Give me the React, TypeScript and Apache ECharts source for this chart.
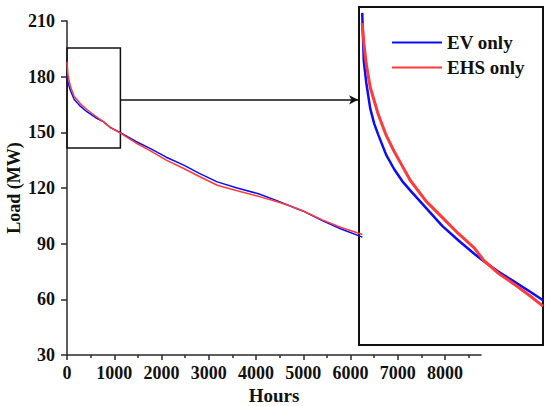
import React, { useEffect, useRef } from "react";
import * as echarts from "echarts";

// Main chart (load duration curves)
const mainHours = [0, 20, 70, 150, 280, 420, 600, 775, 917, 1130, 1450, 1765, 2100, 2470, 2800, 3178, 3600, 4050, 4400, 4695, 5000, 5400, 5800, 6250];
const mainEv = [181, 177, 172.7, 167.8, 164.1, 161.1, 158.0, 155.6, 152.6, 149.8, 145.2, 141.2, 136.6, 132.3, 127.9, 123.3, 120.0, 116.9, 113.6, 110.6, 107.5, 102.4, 97.9, 93.5];
const mainEhs = [188, 181, 175.0, 169.5, 165.5, 162.3, 158.8, 155.6, 152.5, 149.6, 144.4, 140.0, 135.0, 130.5, 126.2, 121.5, 118.5, 115.5, 113.0, 110.6, 107.6, 102.8, 98.7, 94.9];

// Inset (zoomed view of the first hours)
const insetHours = [0, 10, 25, 50, 75, 100, 150, 200, 250, 300, 400, 500, 600, 700, 760, 850, 950, 1050, 1130];
const insetEv = [184.3, 178.6, 176.1, 173.0, 171.2, 169.9, 167.5, 165.8, 164.4, 163.3, 161.2, 159.1, 157.4, 155.8, 154.9, 153.7, 152.5, 151.3, 150.3];
const insetEhs = [183.1, 180.8, 178.3, 175.5, 173.9, 172.3, 169.8, 167.9, 166.2, 164.5, 162.0, 160.1, 158.2, 156.5, 155.0, 153.5, 152.2, 150.8, 149.6];

const seriesNames = ["EV only", "EHS only"];
const xMajorTicks = [0, 1000, 2000, 3000, 4000, 5000, 6000, 7000, 8000];
const xMinorTicks = [500, 1500, 2500, 3500, 4500, 5500, 6500, 7500, 8500];
const xRange = [0, 8760];
const yRange = [30, 210];
const yInterval = 30;

const insetHourRange = [-20, 1130];
const insetLoadRange = [145, 185];
const zoomBoxHours = [0, 1130];
const zoomBoxLoad = [141.6, 195.5];
const arrowLoad = 167.5;
const arrowEndHour = 6160;

const BLUE = "#0b0bff";
const RED = "#ff3a3a";
const font = { fontFamily: "Liberation Serif", fontWeight: "bold" as const, color: "#111" };

const zip = (xs: number[], ys: number[]) => xs.map((x, i) => [x, ys[i]]);

export default function App() {
  const ref = useRef<HTMLDivElement>(null);
  useEffect(() => {
    if (!ref.current) return;
    const chart = echarts.init(ref.current, null, { renderer: "svg" });
    const axisLineStyle = { color: "#2a2a2a", width: 1.5 };
    chart.setOption({
      animation: false,
      backgroundColor: "#fff",
      legend: {
        data: seriesNames,
        orient: "vertical",
        left: 386,
        top: 28,
        itemWidth: 50,
        itemHeight: 14,
        itemGap: 6,
        itemStyle: { opacity: 0 },
        lineStyle: { width: 2 },
        textStyle: { ...font, fontSize: 19 },
      },
      grid: [
        { left: 67, top: 21, width: 414, height: 334, show: false, outerBoundsMode: "none", containLabel: false },
        {
          left: 359,
          top: 7,
          width: 184,
          height: 338,
          show: true,
          backgroundColor: "#fff",
          borderColor: "#111",
          borderWidth: 2,
          outerBoundsMode: "none",
          containLabel: false,
        },
      ],
      xAxis: [
        {
          gridIndex: 0,
          type: "value",
          min: xRange[0],
          max: xRange[1],
          interval: 1000,
          position: "bottom",
          axisLine: { show: true, lineStyle: axisLineStyle },
          axisTick: { show: true, customValues: xMajorTicks, length: 5, lineStyle: axisLineStyle },
          axisLabel: {
            customValues: xMajorTicks,
            margin: 9,
            formatter: (v: number) => String(v),
            ...font,
            fontSize: 18,
          },
          splitLine: { show: false },
          name: "Hours",
          nameLocation: "middle",
          nameGap: 31,
          nameMoveOverlap: false,
          nameTextStyle: { ...font, fontSize: 19 },
        },
        {
          gridIndex: 0,
          type: "value",
          min: xRange[0],
          max: xRange[1],
          interval: 500,
          position: "bottom",
          axisLine: { show: false },
          axisTick: { show: true, customValues: xMinorTicks, length: 3, lineStyle: axisLineStyle },
          axisLabel: { show: false },
          splitLine: { show: false },
        },
        {
          gridIndex: 1,
          type: "value",
          min: insetHourRange[0],
          max: insetHourRange[1],
          show: false,
        },
      ],
      yAxis: [
        {
          gridIndex: 0,
          type: "value",
          min: yRange[0],
          max: yRange[1],
          interval: yInterval,
          axisLine: { show: true, lineStyle: axisLineStyle },
          axisTick: { show: true, length: 6, lineStyle: axisLineStyle },
          axisLabel: { margin: 12, formatter: (v: number) => String(v), ...font, fontSize: 18 },
          splitLine: { show: false },
          name: "Load (MW)",
          nameLocation: "middle",
          nameGap: 44,
          nameMoveOverlap: false,
          nameTextStyle: { ...font, fontSize: 18 },
        },
        {
          gridIndex: 1,
          type: "value",
          min: insetLoadRange[0],
          max: insetLoadRange[1],
          show: false,
        },
      ],
      series: [
        {
          name: seriesNames[0],
          type: "line",
          xAxisIndex: 0,
          yAxisIndex: 0,
          data: zip(mainHours, mainEv),
          symbol: "none",
          color: BLUE,
          lineStyle: { color: BLUE, width: 1.5 },
          emphasis: { disabled: true },
          markArea: {
            silent: true,
            itemStyle: { color: "rgba(0,0,0,0)", borderColor: "#111", borderWidth: 1.5 },
            label: { show: false },
            data: [[{ coord: [zoomBoxHours[0], zoomBoxLoad[1]] }, { coord: [zoomBoxHours[1], zoomBoxLoad[0]] }]],
          },
          markLine: {
            silent: true,
            symbol: ["none", "arrow"],
            symbolSize: [7, 9],
            lineStyle: { color: "#111", width: 1.5, type: "solid" },
            label: { show: false },
            data: [[{ coord: [zoomBoxHours[1], arrowLoad] }, { coord: [arrowEndHour, arrowLoad] }]],
          },
        },
        {
          name: seriesNames[1],
          type: "line",
          xAxisIndex: 0,
          yAxisIndex: 0,
          data: zip(mainHours, mainEhs),
          symbol: "none",
          color: RED,
          lineStyle: { color: RED, width: 1.5 },
          emphasis: { disabled: true },
        },
        {
          name: seriesNames[0],
          type: "line",
          xAxisIndex: 2,
          yAxisIndex: 1,
          data: zip(insetHours, insetEv),
          symbol: "none",
          color: BLUE,
          lineStyle: { color: BLUE, width: 2.5 },
          emphasis: { disabled: true },
        },
        {
          name: seriesNames[1],
          type: "line",
          xAxisIndex: 2,
          yAxisIndex: 1,
          data: zip(insetHours, insetEhs),
          symbol: "none",
          color: RED,
          lineStyle: { color: RED, width: 3 },
          emphasis: { disabled: true },
        },
      ],
    });
    return () => chart.dispose();
  }, []);
  return (
    <div
      ref={ref}
      style={{ position: "absolute", left: 0, top: 0, width: 550, height: 406 }}
    />
  );
}
